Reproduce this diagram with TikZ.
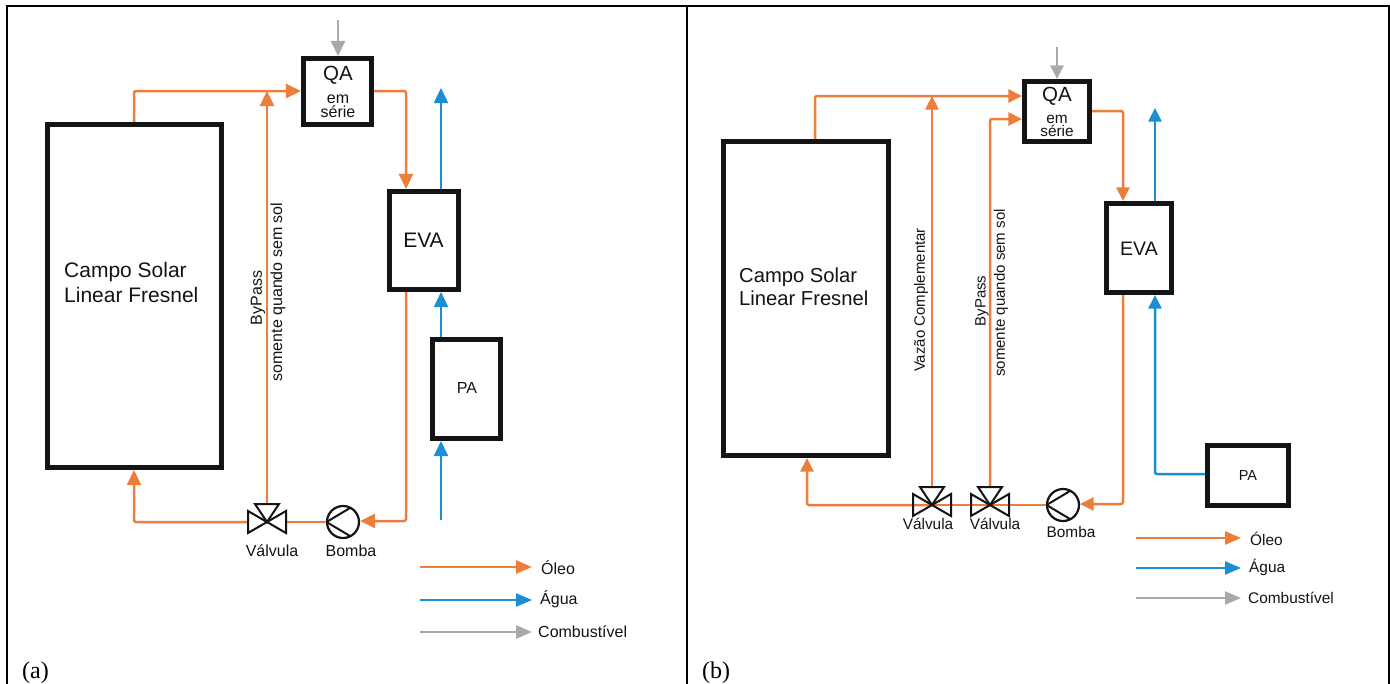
\documentclass[tikz,border=0pt]{standalone}
\usepackage{fontspec}
\setmainfont{Liberation Sans}
\newfontfamily\capfont{Liberation Serif}
\usetikzlibrary{arrows.meta}
\definecolor{oil}{HTML}{ED7D3A}
\definecolor{water}{HTML}{1B8FD6}
\definecolor{fuel}{HTML}{A9A9A9}
\definecolor{ink}{HTML}{141414}
\tikzset{
  x=1pt,y=-1pt,
  frameline/.style={draw=black,line width=2.6pt},
  unitbox/.style={draw=ink,line width=4.6pt,fill=white,inner sep=0pt,minimum width=0pt},
  flowline/.style={line width=2.5pt,rounded corners=2pt,-{Triangle[length=15pt,width=14pt]}},
  flowsmall/.style={line width=2.5pt,rounded corners=2pt,-{Triangle[length=13.5pt,width=13pt]}},
  legendline/.style={line width=2.5pt,-{Triangle[length=16pt,width=13pt]}},
  plainflow/.style={line width=2.5pt,rounded corners=2pt},
  oila/.style={flowline,draw=oil},
  oilc/.style={flowsmall,draw=oil},
  oilb/.style={plainflow,draw=oil},
  watera/.style={flowline,draw=water},
  waterc/.style={flowsmall,draw=water},
  fuela/.style={flowline,draw=fuel},
  fuelc/.style={flowsmall,draw=fuel},
  symline/.style={draw=ink,line width=2pt,line join=miter},
  lab/.style={font=\fontsize{16}{18}\selectfont,text=ink,inner sep=0pt},
  labb/.style={font=\fontsize{15.4}{18}\selectfont,text=ink,inner sep=0pt},
  sidea/.style={lab,font=\fontsize{16}{18}\selectfont,rotate=90},
  sideb/.style={labb,font=\fontsize{15}{18}\selectfont,rotate=90},
  capfield/.style={font=\fontsize{21}{24}\selectfont,text=ink,inner sep=0pt,anchor=west},
  capfieldb/.style={font=\fontsize{20.2}{24}\selectfont,text=ink,inner sep=0pt,anchor=west},
  unitname/.style={font=\fontsize{20.5}{22}\selectfont,text=ink,inner sep=0pt},
  captext/.style={font=\capfont\fontsize{24}{26}\selectfont,text=black,inner sep=0pt,anchor=base west},
  pumpc/.style={circle,draw=ink,line width=2.2pt,minimum size=32pt,inner sep=0pt,fill=white},
  valvept/.style={inner sep=0pt,minimum size=1pt},
}
\newcommand{\valvesym}[2][]{%
  \draw[symline,#1] ([shift={(-19,-11)}]#2.center) -- ([shift={(-19,11)}]#2.center) -- ([shift={(19,-11)}]#2.center) -- ([shift={(19,11)}]#2.center) -- cycle;
  \draw[symline,#1] (#2.center) -- ([shift={(-12,-18)}]#2.center) -- ([shift={(12,-18)}]#2.center) -- cycle;
}
\newcommand{\pumpsym}[1]{%
  \draw[symline] ([shift={(7,-14)}]#1.center) -- ([shift={(-16.5,0)}]#1.center) -- ([shift={(7,14)}]#1.center);
}
\begin{document}
\begin{tikzpicture}
\useasboundingbox (0,0) rectangle (1390,683);
\fill[white] (0,0) rectangle (1390,683);
\coordinate (fa) at (7,700); \coordinate (fb) at (7,6); \coordinate (fc) at (1389,6); \coordinate (fd) at (1389,700);
\coordinate (fe) at (687,6); \coordinate (ff) at (687,700);
\draw[frameline] (fa) -- (fb) -- (fc) -- (fd);
\draw[frameline] (fe) -- (ff);
\node[captext] (capa) at (22,678) {(a)};
\node[captext] (capb) at (702,678) {(b)};

% ---------- panel (a)
\node[unitbox,minimum width=174.5pt,minimum height=343.5pt] (campoA) at (134.5,296) {};
\node[unitbox,minimum width=68.5pt,minimum height=66.5pt] (qaA) at (337.5,91.5) {};
\node[unitbox,minimum width=69.5pt,minimum height=98.5pt] (evaA) at (424,240.5) {};
\node[unitbox,minimum width=68.5pt,minimum height=99.5pt] (paA) at (466.5,389) {};
\node[capfield] (tcA) at (64,272) {Campo Solar};
\node[capfield] (tlA) at (64,295) {Linear Fresnel};
\node[unitname] (tqA) at (338,75) {QA};
\node[lab] (teA) at (338,99) {em};
\node[lab] (tsA) at (338,112) {série};
\node[unitname,font=\fontsize{21}{22}\selectfont] (tvA) at (423.5,240) {EVA};
\node[lab,font=\fontsize{16}{18}\selectfont] (tpA) at (467,388) {PA};
\node[valvept] (vA) at (267,522) {};
\node[pumpc] (bA) at (343,522) {};
\pumpsym{bA}
\node[lab] (tvlA) at (272,551) {Válvula};
\node[lab] (tbA) at (351,551) {Bomba};
\node[sidea] (t1A) at (258,298) {ByPass};
\node[sidea] (t2A) at (278,292) {somente quando sem sol};
\coordinate (a1) at (134,91); \coordinate (a2) at (406,91); \coordinate (a3) at (406,521);
\coordinate (a4) at (134,522); \coordinate (a5) at (267,91); \coordinate (a6) at (441,520);
\coordinate (a7) at (338,20); \coordinate (a8) at (441,88);
\draw[oila] (campoA.north -| a1) -- (a1) -- (qaA.west |- a1);
\draw[oila] ([shift={(0,-18)}]vA.center) -- (a5);
\draw[oila] (qaA.east |- a2) -- (a2) -- (a2 |- evaA.north);
\draw[oila] (a2 |- evaA.south) -- (a3) -- (bA.east |- a3);
\draw[oilb] (bA.west) -- ([shift={(19,0)}]vA.center);
\draw[oila] ([shift={(-19,0)}]vA.center) -- (a4) -- (a4 |- campoA.south);
\valvesym[fill=white]{vA}
\draw[watera] (evaA.north -| a8) -- (a8);
\draw[watera] (paA.north -| a8) -- (a8 |- evaA.south);
\draw[watera] (a6) -- (a6 |- paA.south);
\draw[fuela] (a7) -- (a7 |- qaA.north);
\coordinate (la1) at (420,567); \coordinate (la2) at (532,567);
\coordinate (la3) at (420,600); \coordinate (la4) at (532,600);
\coordinate (la5) at (420,632); \coordinate (la6) at (532,632);
\draw[legendline,draw=oil] (la1) -- (la2);
\draw[legendline,draw=water] (la3) -- (la4);
\draw[legendline,draw=fuel] (la5) -- (la6);
\node[lab,anchor=west] (lta) at (541,568) {Óleo};
\node[lab,anchor=west] (ltb) at (540,599) {Água};
\node[lab,anchor=west] (ltc) at (538,632) {Combustível};

% ---------- panel (b)
\node[unitbox,minimum width=165.5pt,minimum height=314.5pt] (campoB) at (806,298.5) {};
\node[unitbox,minimum width=65.5pt,minimum height=60.5pt] (qaB) at (1057,111.5) {};
\node[unitbox,minimum width=65.5pt,minimum height=89.5pt] (evaB) at (1139,248) {};
\node[unitbox,minimum width=81.5pt,minimum height=60.5pt] (paB) at (1248,475.5) {};
\node[capfieldb] (tcB) at (739,277) {Campo Solar};
\node[capfieldb] (tlB) at (739,298) {Linear Fresnel};
\node[unitname] (tqB) at (1057,96) {QA};
\node[labb] (teB) at (1057,119) {em};
\node[labb] (tsB) at (1057,131) {série};
\node[unitname,font=\fontsize{19.5}{22}\selectfont] (tvB) at (1139,249) {EVA};
\node[labb,font=\fontsize{14.5}{18}\selectfont] (tpB) at (1248,476) {PA};
\node[valvept] (v1B) at (932,505) {};
\node[valvept] (v2B) at (990,505) {};
\node[pumpc] (bB) at (1063,505) {};
\pumpsym{bB}
\node[labb] (tv1B) at (928,524) {Válvula};
\node[labb] (tv2B) at (995,524) {Válvula};
\node[labb] (tbB) at (1071,532) {Bomba};
\node[sideb] (t0B) at (921,300) {Vazão Complementar};
\node[sideb] (t1B) at (982,301) {ByPass};
\node[sideb] (t2B) at (1001,293) {somente quando sem sol};
\coordinate (b1) at (815,96); \coordinate (b2) at (932,96); \coordinate (b3) at (990,119);
\coordinate (b4) at (1123,111); \coordinate (b5) at (1123,504); \coordinate (b6) at (807,505);
\coordinate (b7) at (1155,474); \coordinate (b8) at (1155,108); \coordinate (b9) at (1057,47);
\draw[oilc] (campoB.north -| b1) -- (b1) -- (qaB.west |- b1);
\draw[oilc] ([shift={(0,-18)}]v1B.center) -- (b2);
\draw[oilc] ([shift={(0,-18)}]v2B.center) -- (b3) -- (qaB.west |- b3);
\draw[oilc] (qaB.east |- b4) -- (b4) -- (b4 |- evaB.north);
\draw[oilc] (b4 |- evaB.south) -- (b5) -- (bB.east |- b5);
\draw[oilb] (bB.west) -- (v1B.center);
\draw[oilc] (v1B.center) -- (b6) -- (b6 |- campoB.south);
\valvesym{v1B}
\valvesym{v2B}
\draw[waterc] (evaB.north -| b8) -- (b8);
\draw[waterc] (paB.west |- b7) -- (b7) -- (b7 |- evaB.south);
\draw[fuelc] (b9) -- (b9 |- qaB.north);
\coordinate (lb1) at (1136,538); \coordinate (lb2) at (1241,538);
\coordinate (lb3) at (1136,568); \coordinate (lb4) at (1241,568);
\coordinate (lb5) at (1136,598); \coordinate (lb6) at (1241,598);
\draw[legendline,draw=oil] (lb1) -- (lb2);
\draw[legendline,draw=water] (lb3) -- (lb4);
\draw[legendline,draw=fuel] (lb5) -- (lb6);
\node[labb,anchor=west] (ltd) at (1250,539) {Óleo};
\node[labb,anchor=west] (lte) at (1249,567) {Água};
\node[labb,anchor=west] (ltf) at (1248,598) {Combustível};
\end{tikzpicture}
\end{document}
